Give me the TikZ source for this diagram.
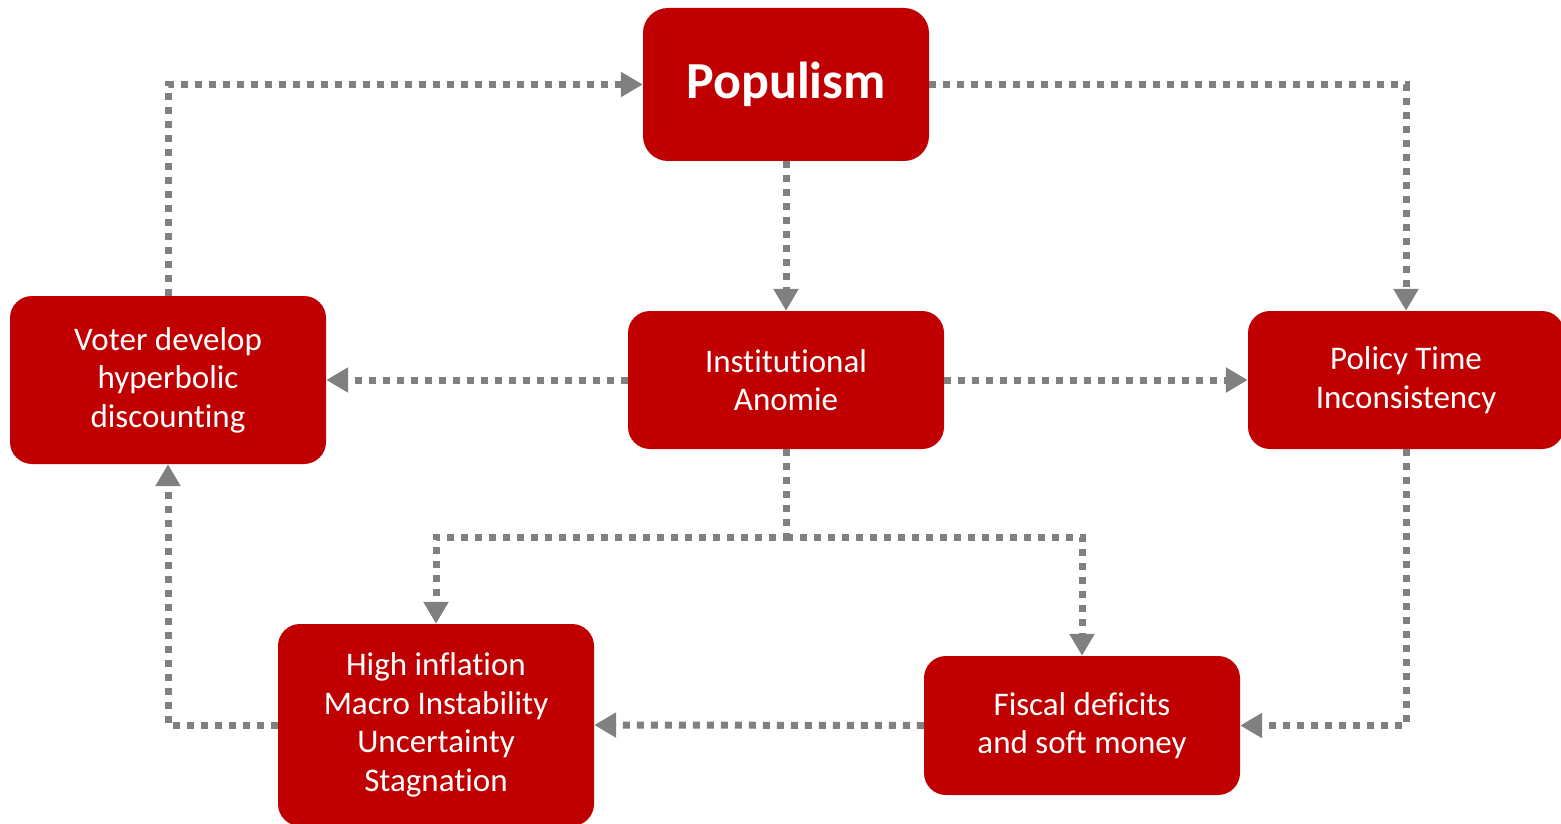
\documentclass[tikz,border=0pt]{standalone}
\usepackage{fontspec}
\setmainfont[Ligatures=NoCommon]{Carlito}
\usetikzlibrary{arrows.meta}
\definecolor{boxred}{HTML}{C00000}
\definecolor{linegray}{HTML}{808080}
\tikzset{
  box/.style={fill=boxred, draw=none, rounded corners=22pt, text=white, align=center,
    font=\fontsize{33}{38.5}\selectfont, inner sep=0pt},
  link/.style={draw=linegray, line width=7pt, dash pattern=on 7pt off 7pt,
    -{Triangle[length=22pt,width=24pt]}}
}
\begin{document}
\begin{tikzpicture}[x=1pt,y=-1pt]
\useasboundingbox (0,0) rectangle (1561,824);
\node[box, minimum width=286pt, minimum height=153pt, rounded corners=25pt,
  font=\fontsize{52}{56}\selectfont\bfseries] (pop) at (786,84.5) {Populism};
\node[box, minimum width=316pt, minimum height=138pt] (ano) at (786,380) {Institutional\\Anomie};
\node[box, minimum width=316pt, minimum height=168pt] (vot) at (168,380) {Voter develop\\hyperbolic\\discounting};
\node[box, minimum width=316pt, minimum height=138pt] (pol) at (1406,380) {Policy Time\\Inconsistency};
\node[box, minimum width=316pt, minimum height=202pt] (inf) at (436,725) {High inflation\\Macro Instability\\Uncertainty\\Stagnation};
\node[box, minimum width=316pt, minimum height=139pt] (fis) at (1082,725.5) {Fiscal deficits\\and soft money};
\coordinate (j) at (786,537);
\draw[link] (vot.north) |- (pop.west);
\draw[link] (pop.east) -| (pol.north);
\draw[link] (pop.south) -- (ano.north);
\draw[link] (ano.west) -- (vot.east);
\draw[link] (ano.east) -- (pol.west);
\draw[link] (ano.south) -- (j) -| (inf.north);
\draw[link] (j) -| (fis.north);
\draw[link] (pol.south) |- (fis.east);
\draw[link] (fis.west) -- (inf.east);
\draw[link] (inf.west) -| (vot.south);
\end{tikzpicture}
\end{document}
